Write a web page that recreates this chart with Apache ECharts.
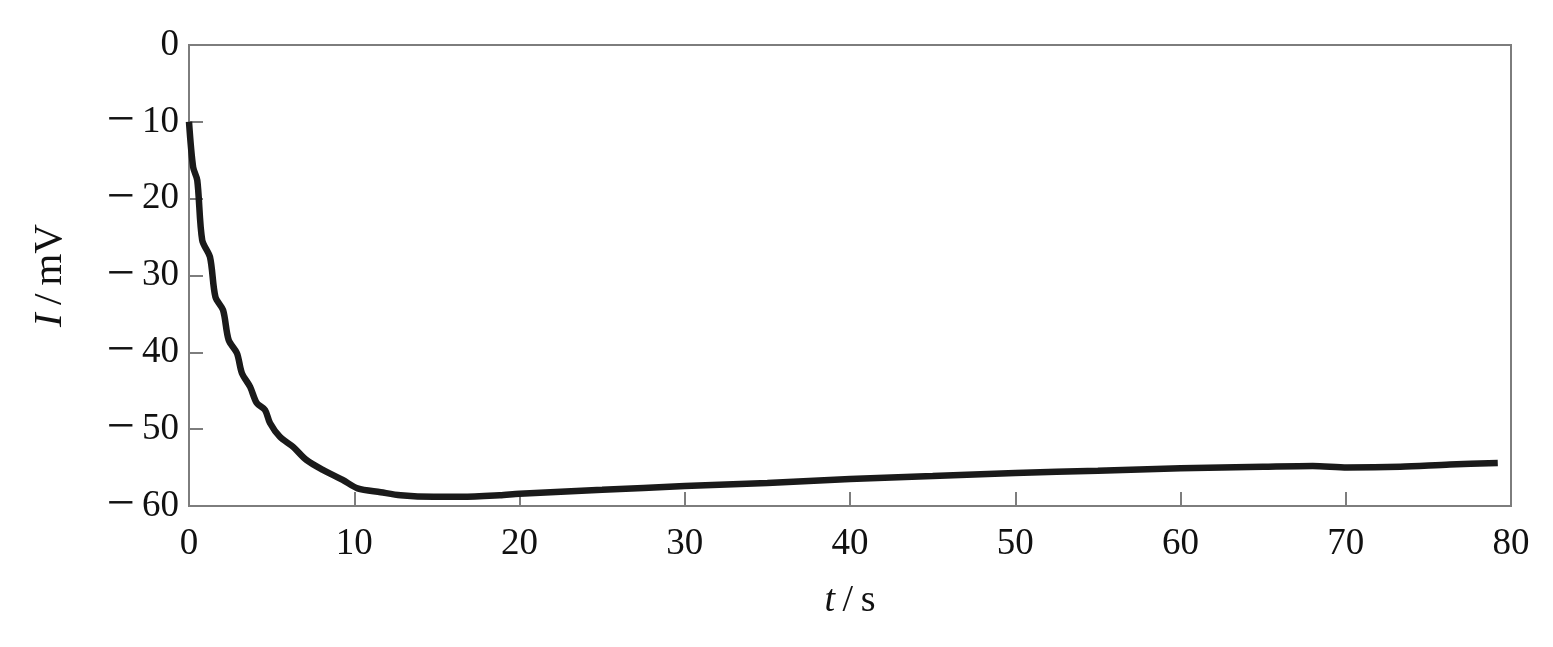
<!DOCTYPE html>
<html><head><meta charset="utf-8">
<script src="https://cdn.jsdelivr.net/npm/echarts@6/dist/echarts.min.js"></script>
<style>html,body{margin:0;padding:0;background:#fff}#c{width:1553px;height:647px}</style>
</head><body><div id="c"></div>
<script>
const timeS = [0, 0.25, 0.5, 0.8, 1.27, 1.6, 2.06, 2.4, 2.9, 3.2, 3.7, 4.1, 4.6, 4.9, 5.5, 6.3, 7.1, 8.1, 9.3, 10.2, 11.6, 12.8, 14.8, 16.5, 18.8, 20, 25, 30, 35, 40, 45, 50, 55, 60, 65, 68, 70.1, 73.3, 76.3, 79.2];
const currentMV = [-10, -15.9, -17.6, -25.4, -27.6, -32.8, -34.5, -38.4, -40.1, -42.7, -44.5, -46.6, -47.5, -49.2, -51.0, -52.3, -54.0, -55.3, -56.6, -57.7, -58.2, -58.6, -58.8, -58.8, -58.6, -58.4, -57.9, -57.4, -57.0, -56.5, -56.1, -55.7, -55.4, -55.1, -54.9, -54.8, -55.0, -54.9, -54.6, -54.4];
const xTicks = [0, 10, 20, 30, 40, 50, 60, 70, 80];
const yTicks = [0, -10, -20, -30, -40, -50, -60];

const font = 'Liberation Serif';
const fs = 37;
const fmt = v => (v < 0 ? '{m|\u2212}{d|\u2009' + Math.abs(v) + '}' : '{d|' + v + '}');
const labelRich = {
  m: { fontFamily: font, fontSize: 50, color: '#111' },
  d: { fontFamily: font, fontSize: fs, color: '#111' }
};
const nameRich = (s) => ({
  i: { fontFamily: font, fontStyle: 'italic', fontSize: s, color: '#111' },
  n: { fontFamily: font, fontSize: s, color: '#111' }
});
const chart = echarts.init(document.getElementById('c'));
chart.setOption({
  animation: false,
  grid: { left: 189, right: 42, top: 45, bottom: 141, show: true, borderColor: '#7d7d7d', borderWidth: 2, backgroundColor: '#fff' },
  xAxis: {
    type: 'value', min: xTicks[0], max: xTicks[xTicks.length - 1], interval: 10,
    axisLine: { show: true, onZero: false, lineStyle: { color: '#7d7d7d', width: 2 } },
    axisTick: { show: true, inside: true, length: 14, lineStyle: { color: '#7d7d7d', width: 2 } },
    splitLine: { show: false },
    axisLabel: { fontFamily: font, fontSize: fs, color: '#111', margin: 20, formatter: fmt, rich: labelRich },
    name: '{i|t}{n|\u2009/\u2009s}', nameLocation: 'middle', nameGap: 76,
    nameTextStyle: { rich: nameRich(38) }
  },
  yAxis: {
    type: 'value', min: -60, max: 0, interval: 10,
    axisLine: { show: true, onZero: false, lineStyle: { color: '#7d7d7d', width: 2 } },
    axisTick: { show: true, inside: true, length: 14, lineStyle: { color: '#7d7d7d', width: 2 } },
    splitLine: { show: false },
    axisLabel: { fontFamily: font, fontSize: fs, color: '#111', margin: 10, formatter: fmt, rich: labelRich },
    name: '{i|I}{n|\u2009/\u2009mV}', nameLocation: 'middle', nameGap: 118, nameRotate: 90,
    nameTextStyle: { rich: nameRich(41) }
  },
  series: [{
    type: 'line', data: timeS.map((t, i) => [t, currentMV[i]]), smooth: 0.3, showSymbol: false,
    lineStyle: { color: '#1a1a1a', width: 6.5 }
  }]
});
</script></body></html>
